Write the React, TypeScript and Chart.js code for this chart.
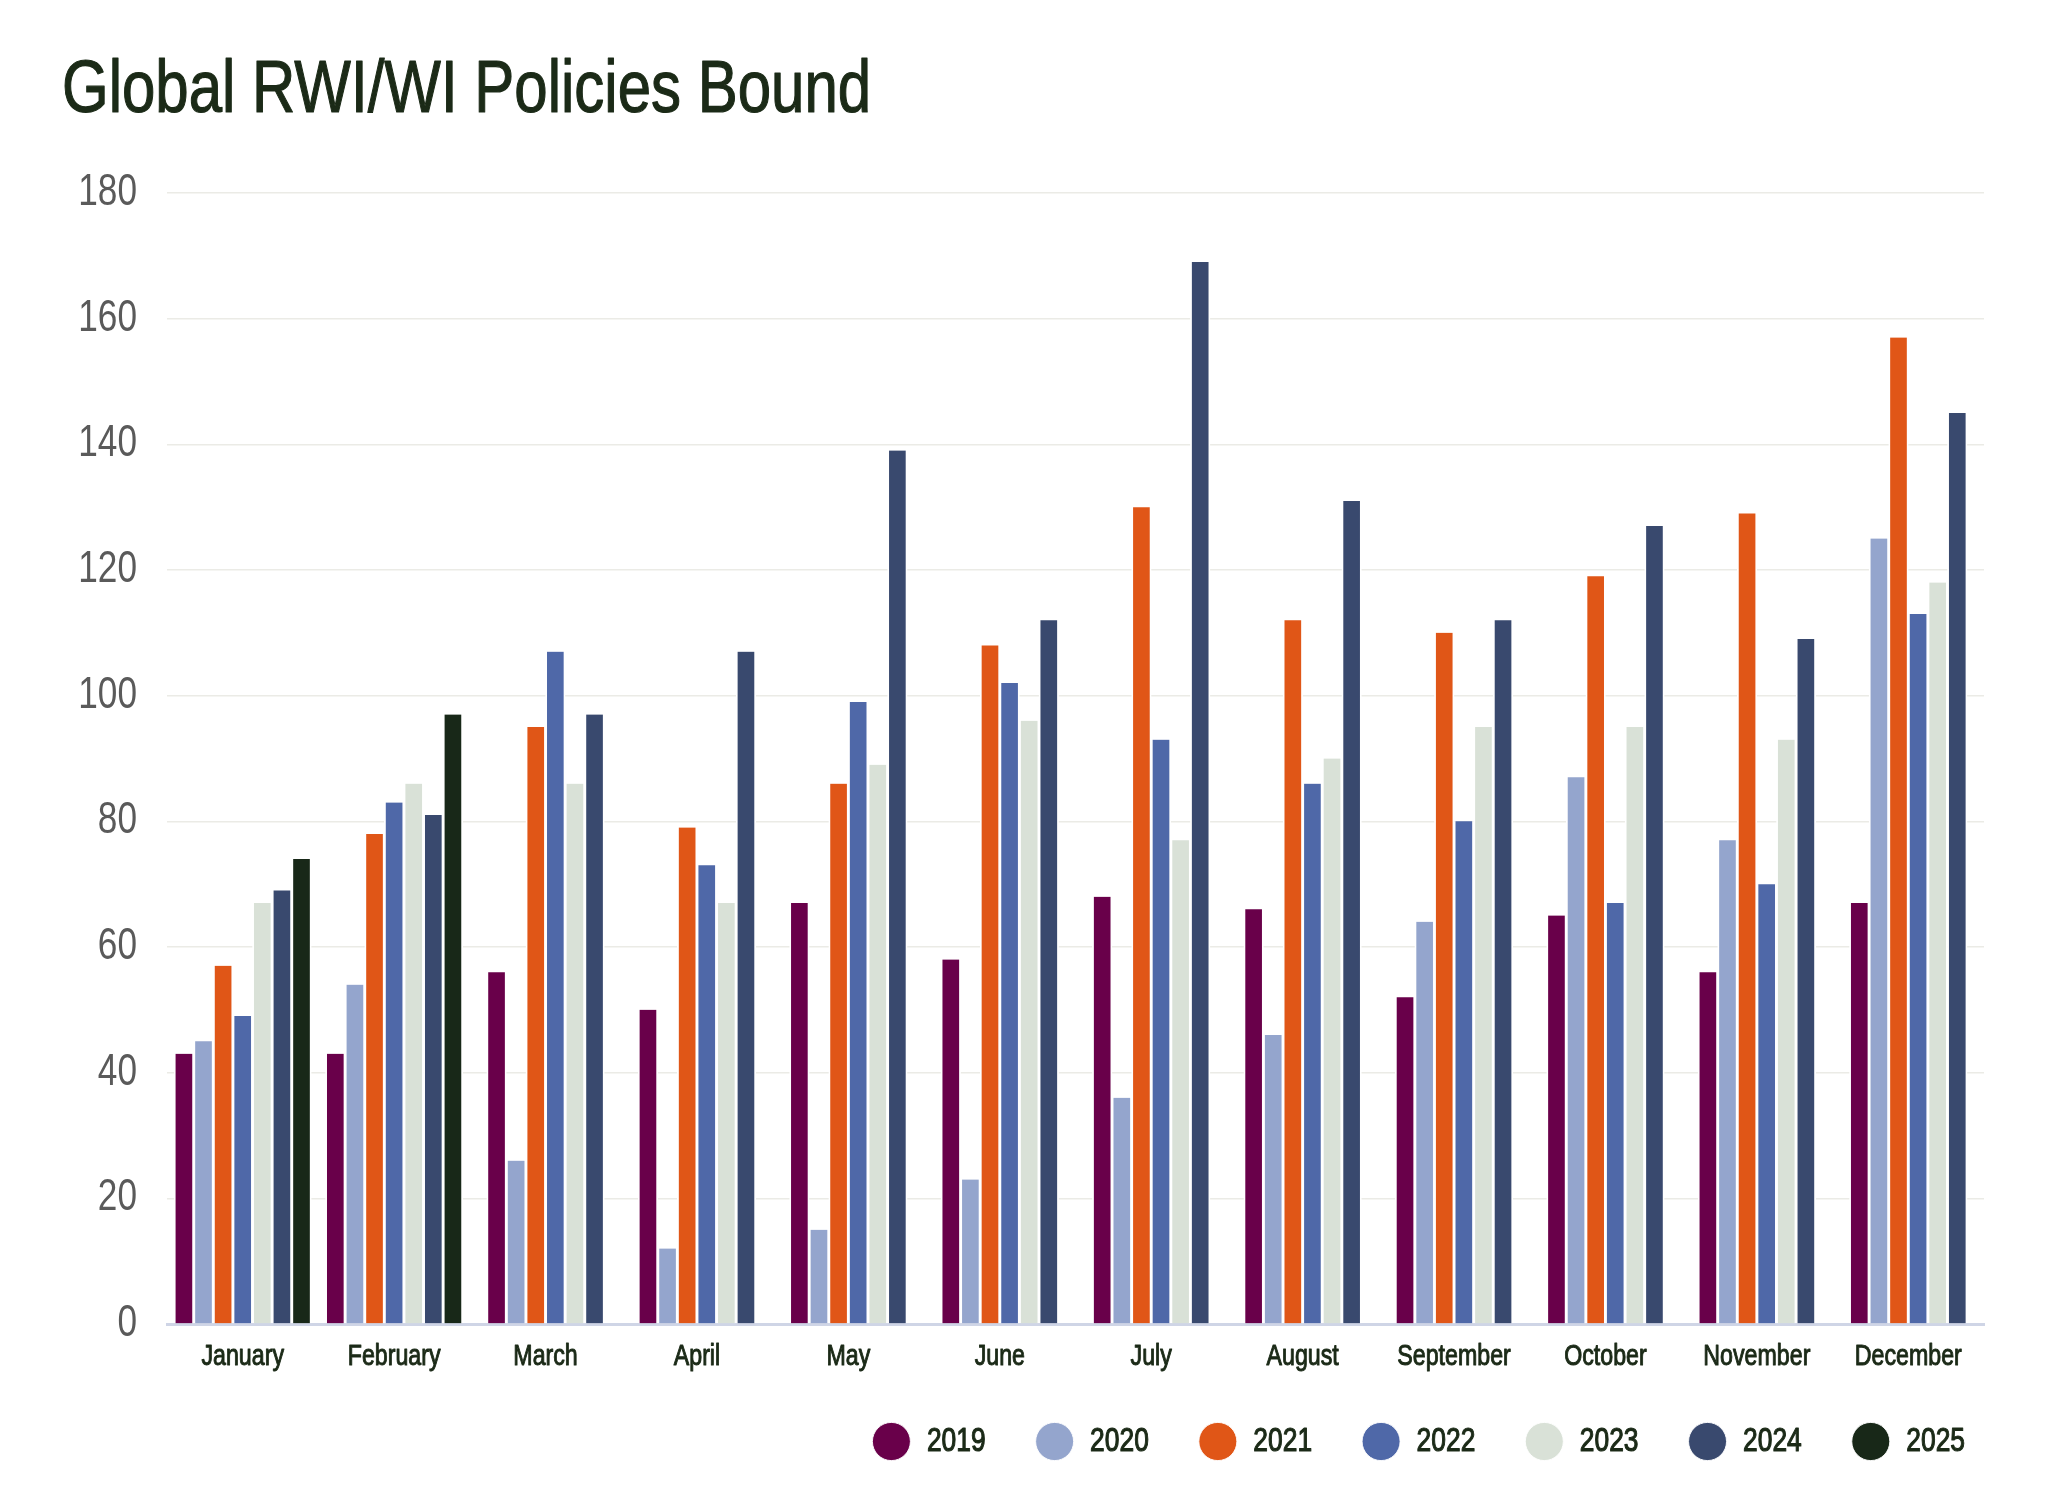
import React, { useEffect, useRef } from 'react';
import Chart from 'chart.js/auto';

const FONT = '"Liberation Sans", Arial, sans-serif';
// the source uses a condensed grotesque; squeeze Liberation Sans horizontally to get close
const CONDENSE = 0.8;
const DARK = '#1b2a17';
const GREY = '#5a5a5a';

const months = [
  'January', 'February', 'March', 'April', 'May', 'June',
  'July', 'August', 'September', 'October', 'November', 'December',
];

const years = ['2019', '2020', '2021', '2022', '2023', '2024', '2025'];

const v2019 = [43, 43, 56, 50, 67, 58, 68, 66, 52, 65, 56, 67];
const v2020 = [45, 54, 26, 12, 15, 23, 36, 46, 64, 87, 77, 125];
const v2021 = [57, 78, 95, 79, 86, 108, 130, 112, 110, 119, 129, 157];
const v2022 = [49, 83, 107, 73, 99, 102, 93, 86, 80, 67, 70, 113];
const v2023 = [67, 86, 86, 67, 89, 96, 77, 90, 95, 95, 93, 118];
const v2024 = [69, 81, 97, 107, 139, 112, 169, 131, 112, 127, 109, 145];
const v2025 = [74, 97, null, null, null, null, null, null, null, null, null, null];

const colors = ['#69004a', '#94a5cd', '#e05617', '#4f68a8', '#d9e1d7', '#39496e', '#182818'];

const yTicks = { min: 0, max: 180, step: 20 };

function condenseText(ctx: any, k: number) {
  if (ctx.__condensed) return;
  ctx.__condensed = true;
  const fill = ctx.fillText.bind(ctx);
  const stroke = ctx.strokeText.bind(ctx);
  const measure = ctx.measureText.bind(ctx);
  ctx.fillText = (text: string, x: number, y: number, maxWidth?: number) => {
    const m = /(\d+(?:\.\d+)?)px/.exec(ctx.font);
    const size = m ? parseFloat(m[1]) : 12;
    const mw = maxWidth === undefined || maxWidth === null ? undefined : maxWidth / k;
    ctx.save();
    ctx.translate(x, y);
    ctx.scale(k, 1);
    if (mw === undefined) fill(text, 0, 0);
    else fill(text, 0, 0, mw);
    // a touch of weight for the dark texts, the original face is a medium cut
    if (String(ctx.fillStyle).toLowerCase() === DARK) {
      ctx.strokeStyle = ctx.fillStyle;
      ctx.lineWidth = Math.min(1.2, size * 0.035);
      ctx.lineJoin = 'round';
      if (mw === undefined) stroke(text, 0, 0);
      else stroke(text, 0, 0, mw);
    }
    ctx.restore();
  };
  ctx.measureText = (text: string) => {
    const m = measure(text);
    return {
      width: m.width * k,
      actualBoundingBoxLeft: m.actualBoundingBoxLeft * k,
      actualBoundingBoxRight: m.actualBoundingBoxRight * k,
      actualBoundingBoxAscent: m.actualBoundingBoxAscent,
      actualBoundingBoxDescent: m.actualBoundingBoxDescent,
      fontBoundingBoxAscent: m.fontBoundingBoxAscent,
      fontBoundingBoxDescent: m.fontBoundingBoxDescent,
    };
  };
}

export default function App() {
  const canvasRef = useRef<HTMLCanvasElement>(null);
  const chartRef = useRef<Chart | null>(null);

  useEffect(() => {
    document.body.style.margin = '0';
    document.body.style.overflow = 'hidden';
    if (!canvasRef.current) return;
    const ctx = canvasRef.current.getContext('2d');
    if (!ctx) return;
    condenseText(ctx, CONDENSE);
    if (chartRef.current) chartRef.current.destroy();

    const series = [v2019, v2020, v2021, v2022, v2023, v2024, v2025];

    chartRef.current = new Chart(ctx, {
      type: 'bar',
      data: {
        labels: months,
        datasets: series.map((d, i) => ({
          label: years[i],
          data: d,
          backgroundColor: colors[i],
          borderColor: '#ffffff',
          borderWidth: { top: 0, bottom: 0, left: 1.8, right: 1.8 },
          borderSkipped: false,
          barThickness: 19.6,
          skipNull: true,
        })),
      },
      options: {
        responsive: false,
        animation: false,
        devicePixelRatio: 1,
        layout: { padding: { left: 62, right: 33, top: 0, bottom: 43 } },
        plugins: {
          title: {
            display: true,
            text: 'Global RWI/WI Policies Bound',
            align: 'start',
            color: DARK,
            font: { family: FONT, size: 75, weight: 'normal' },
            padding: { top: 46, bottom: 57 },
          },
          legend: {
            position: 'bottom',
            align: 'end',
            labels: {
              usePointStyle: true,
              pointStyle: 'circle',
              boxHeight: 27,
              pointStyleWidth: 38,
              padding: 50,
              color: DARK,
              font: { family: FONT, size: 33 },
            },
          },
          tooltip: { enabled: false },
        },
        scales: {
          x: {
            grid: { display: false, drawTicks: false },
            border: { display: true, color: '#cfd5e6', width: 3 },
            ticks: {
              color: DARK,
              font: { family: FONT, size: 29 },
              padding: 16,
              autoSkip: false,
              maxRotation: 0,
            },
            afterFit: (s: any) => {
              s.height = 51;
            },
          },
          y: {
            min: yTicks.min,
            max: yTicks.max,
            grid: { color: '#ebebe6', lineWidth: 1.5, drawTicks: false },
            border: { display: false },
            ticks: {
              stepSize: yTicks.step,
              color: GREY,
              font: { family: FONT, size: 44 },
              padding: 30,
            },
            afterFit: (s: any) => {
              s.width = 105;
            },
          },
          yRight: {
            type: 'linear',
            position: 'right',
            display: true,
            grid: { display: false, drawTicks: false },
            border: { display: false },
            ticks: { display: false },
            afterFit: (s: any) => {
              s.width = 31;
            },
          },
        },
      },
    });

    return () => {
      if (chartRef.current) chartRef.current.destroy();
      chartRef.current = null;
    };
  }, []);

  return (
    <div style={{ width: 2048, height: 1511, background: '#ffffff' }}>
      <canvas ref={canvasRef} width={2048} height={1511} style={{ width: 2048, height: 1511 }}></canvas>
    </div>
  );
}
